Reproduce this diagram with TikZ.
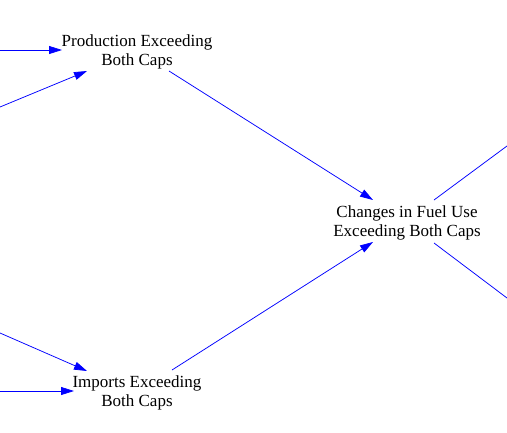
\documentclass[tikz,border=0pt]{standalone}
\usepackage{fontspec}
\setmainfont{Liberation Serif}
\usetikzlibrary{arrows.meta}
\begin{document}
\begin{tikzpicture}[x=1pt,y=-1pt,
  lbl/.style={align=center,font=\fontsize{17}{19.5}\selectfont,inner sep=0pt},
  conn/.style={draw=blue,line width=0.75pt,-{Triangle[length=13pt,width=8pt]}},
  plain/.style={draw=blue,line width=0.75pt}]
\useasboundingbox (0,0) rectangle (507,432);
\node[lbl] (prod) at (137,52) {Production Exceeding\\Both Caps};
\node[lbl] (chg) at (407,223) {Changes in Fuel Use\\Exceeding Both Caps};
\node[lbl] (imp) at (137,393) {Imports Exceeding\\Both Caps};
\coordinate (pa) at (0,50);
\coordinate (pb) at (0,107);
\coordinate (pt1) at (62,50);
\coordinate (pt2) at (87,71);
\coordinate (ps) at (169,71);
\coordinate (ct1) at (373,200);
\coordinate (ct2) at (373,242);
\coordinate (is) at (172,370);
\coordinate (ia) at (0,333);
\coordinate (ib) at (0,391);
\coordinate (it1) at (87,371);
\coordinate (it2) at (74,391);
\coordinate (co1) at (434,200);
\coordinate (ce1) at (507,146);
\coordinate (co2) at (434,243);
\coordinate (ce2) at (507,298);
\draw[conn] (pa) -- (pt1);
\draw[conn] (pb) -- (pt2);
\draw[conn] (ps) -- (ct1);
\draw[conn] (is) -- (ct2);
\draw[conn] (ia) -- (it1);
\draw[conn] (ib) -- (it2);
\draw[plain] (co1) -- (ce1);
\draw[plain] (co2) -- (ce2);
\end{tikzpicture}
\end{document}
